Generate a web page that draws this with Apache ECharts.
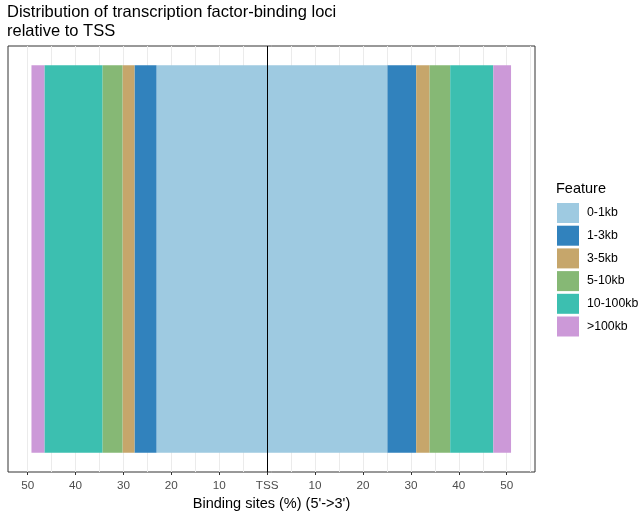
<!DOCTYPE html>
<html>
<head>
<meta charset="utf-8">
<script src="https://cdn.jsdelivr.net/npm/echarts@6/dist/echarts.min.js"></script>
<style>
  html, body { margin: 0; padding: 0; background: #fff; }
  #chart { width: 642px; height: 514px; }
</style>
</head>
<body>
<div id="chart"></div>
<script>
// ---- data ----
const features = ['0-1kb', '1-3kb', '3-5kb', '5-10kb', '10-100kb', '>100kb'];
const upstreamPct = [23.1, 4.6, 2.5, 4.2, 12.1, 2.7];   // 5' side (left of TSS)
const downstreamPct = [25.1, 6.0, 2.8, 4.3, 9.0, 3.7];  // 3' side (right of TSS)
const featureColors = ['#9ecae1', '#3182bd', '#c6a66b', '#86b875', '#3cbfb0', '#cc99d8'];
const tickValues = [-50, -40, -30, -20, -10, 0, 10, 20, 30, 40, 50];
const tickLabels = ['50', '40', '30', '20', '10', 'TSS', '10', '20', '30', '40', '50'];
const gridValues = [-50, -45, -40, -35, -30, -25, -20, -15, -10, -5, 0, 5, 10, 15, 20, 25, 30, 35, 40, 45, 50, 55];
const category = ['all'];

const FONT = '"Liberation Sans", Arial, sans-serif';
const xMin = -54.1, xMax = 55.9;

const series = [];
features.forEach((f, i) => {
  series.push({
    name: f, type: 'bar', stack: 'total', xAxisIndex: 0, yAxisIndex: 0,
    barWidth: '91%', itemStyle: { color: featureColors[i] },
    data: [-upstreamPct[i]], silent: true
  });
  series.push({
    name: f, type: 'bar', stack: 'total', xAxisIndex: 0, yAxisIndex: 0,
    barWidth: '91%', itemStyle: { color: featureColors[i] },
    data: [downstreamPct[i]], silent: true
  });
});
series[series.length - 1].markLine = {
  silent: true, symbol: 'none', animation: false,
  label: { show: false },
  lineStyle: { color: '#000', width: 1, type: 'solid' },
  data: [{ xAxis: 0 }]
};

const chart = echarts.init(document.getElementById('chart'), null, { renderer: 'canvas' });
chart.setOption({
  animation: false,
  backgroundColor: '#fff',
  textStyle: { fontFamily: FONT },
  title: [
    {
      text: 'Distribution of transcription factor-binding loci\nrelative to TSS',
      left: 7, top: 3.5, padding: 0,
      textStyle: { fontFamily: FONT, fontSize: 16.5, fontWeight: 'normal', color: '#000', lineHeight: 18.5 }
    },
    {
      text: 'Feature', left: 556, top: 181, padding: 0,
      textStyle: { fontFamily: FONT, fontSize: 14.5, fontWeight: 'normal', color: '#000' }
    }
  ],
  legend: {
    orient: 'vertical', left: 557, top: 203, padding: 0,
    data: features, icon: 'rect', itemWidth: 22, itemHeight: 20, itemGap: 2.7,
    selectedMode: false,
    textStyle: { fontFamily: FONT, fontSize: 12.3, color: '#000', padding: [0, 0, 0, 3] }
  },
  grid: {
    left: 8, right: 107, top: 46, bottom: 42,
    outerBoundsMode: 'none', containLabel: false,
    show: true, borderColor: '#333', borderWidth: 1, backgroundColor: '#fff'
  },
  xAxis: [
    {
      type: 'value', min: xMin, max: xMax, gridIndex: 0, position: 'bottom',
      axisLine: { show: false },
      axisTick: { show: false, customValues: gridValues },
      axisLabel: { show: false },
      splitLine: { show: true, lineStyle: { color: '#ebebeb', width: 1 } }
    },
    {
      type: 'value', min: xMin, max: xMax, gridIndex: 0, position: 'bottom',
      axisLine: { show: false },
      axisTick: { show: true, customValues: tickValues, length: 3, inside: false, lineStyle: { color: '#333' } },
      axisLabel: {
        show: true, customValues: tickValues, margin: 8,
        color: '#4d4d4d', fontSize: 11.7, fontFamily: FONT,
        formatter: v => { const k = tickValues.indexOf(Math.round(v)); return k >= 0 ? tickLabels[k] : ''; }
      },
      splitLine: { show: false },
      name: "Binding sites (%) (5'->3')",
      nameLocation: 'middle', nameGap: 23,
      nameTextStyle: { fontFamily: FONT, fontSize: 14.5, color: '#000' }
    }
  ],
  yAxis: {
    type: 'category', data: category,
    axisLine: { show: false }, axisTick: { show: false }, axisLabel: { show: false },
    splitLine: { show: false }
  },
  series: series
});
</script>
</body>
</html>
